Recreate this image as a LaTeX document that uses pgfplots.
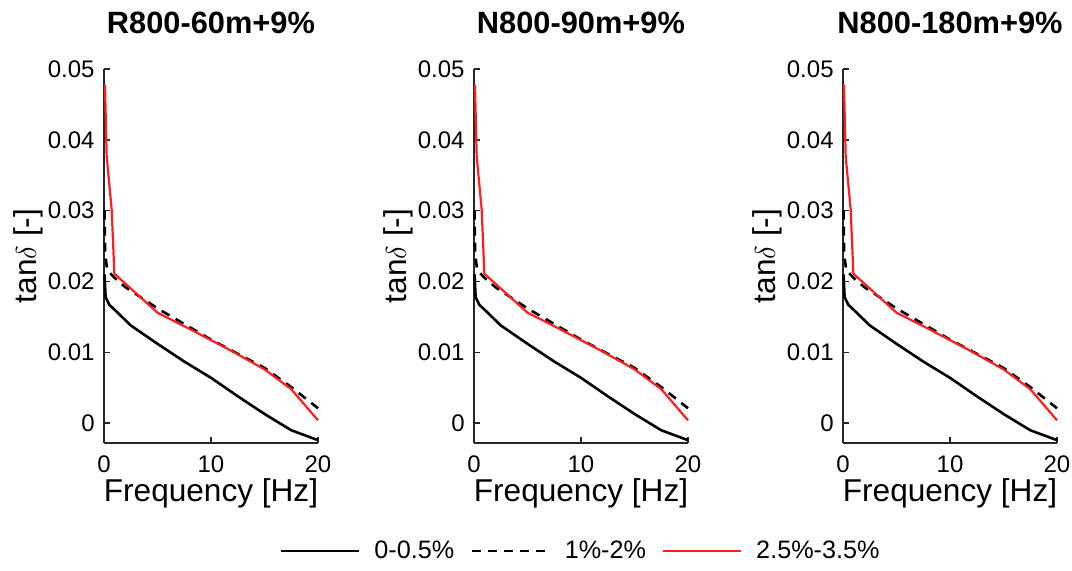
\documentclass[border=0pt]{standalone}
\usepackage{fontspec}
\setmainfont{Liberation Sans}
\usepackage{pgfplots}
\pgfplotsset{compat=1.18}

\pgfplotstableread{
x y
0.05 0.0210
0.15 0.0178
0.5 0.0167
1.0 0.0160
2.5 0.0138
5.0 0.0112
7.5 0.0087
10.0 0.0064
12.5 0.0038
15.0 0.0013
17.5 -0.0010
20.0 -0.0024
}\tblA
\pgfplotstableread{
x y
0.05 0.0300
0.1 0.0240
0.3 0.0216
1.0 0.0205
2.0 0.0192
5.0 0.0162
10.0 0.0118
15.0 0.0078
17.5 0.0051
20.0 0.0021
}\tblB
\pgfplotstableread{
x y
0.09 0.0478
0.25 0.0377
0.72 0.0301
0.97 0.0211
5.0 0.0156
8.0 0.0133
11.8 0.0103
15.0 0.0076
17.5 0.0048
20.0 0.0004
}\tblC

\definecolor{axgray}{RGB}{38,38,38}
\definecolor{mred}{RGB}{255,30,30}

\pgfplotsset{
  every axis title shift=0pt,
  panel/.style={
    scale only axis,
    width=107pt, height=187pt,
    xmin=0, xmax=20, ymin=-0.0028, ymax=0.05,
    axis lines*=left,
    axis line style={axgray, line width=0.8pt},
    tick style={axgray, line width=0.8pt},
    tick align=inside,
    major tick length=3pt,
    scaled y ticks=false,
    scaled x ticks=false,
    xtick={0,10,20},
    ytick={0,0.01,0.02,0.03,0.04,0.05},
    yticklabels={0,0.01,0.02,0.03,0.04,0.05},
    xticklabels={0,10,20},
    ticklabel style={font=\fontsize{12}{14}\selectfont, text=black},
    yticklabel style={inner sep=0pt, xshift=-4.5pt},
    xticklabel style={inner sep=0pt, yshift=-6pt},
    xlabel={Frequency [Hz]},
    ylabel={tan$\delta$ [-]},
    label style={font=\fontsize{15.8}{18}\selectfont},
    xlabel style={at={(axis description cs:0.5,-0.134)}, anchor=center, inner sep=0pt},
    ylabel style={at={(axis description cs:-0.355,0.5)}, anchor=center, rotate=0, inner sep=0pt},
    title style={font=\fontsize{15.4}{18}\bfseries\selectfont, at={(axis description cs:0.5,1.124)}, anchor=center, inner sep=0pt},
    clip=false,
  },
  cblack/.style={black, line width=1.3pt},
  cdash/.style={black, line width=1.3pt, dash pattern=on 4.5pt off 3.5pt},
  cred/.style={mred, line width=1.1pt},
}

\begin{document}
\begin{tikzpicture}
\path[use as bounding box] (-52pt,-64pt) rectangle (484pt,221.5pt);

\begin{axis}[panel, at={(0pt,0pt)}, title={R800-60m+9\%}]
\addplot[cblack] table {\tblA};
\addplot[cdash] table {\tblB};
\addplot[cred] table {\tblC};
\end{axis}

\begin{axis}[panel, at={(185pt,0pt)}, title={N800-90m+9\%},
  legend columns=3,
  legend style={at={(axis description cs:0.503,-0.289)}, anchor=center, draw=none, fill=none,
    font=\fontsize{12.6}{14}\selectfont, inner sep=0pt,
    /tikz/every odd column/.append style={column sep=5pt},
    /tikz/every even column/.append style={column sep=6pt}},
  legend image code/.code={\draw[#1] (0pt,0pt) -- (39pt,0pt);},
]
\addplot[cblack] table {\tblA};
\addplot[cdash] table {\tblB};
\addplot[cred] table {\tblC};
\legend{0-0.5\%, 1\%-2\%, 2.5\%-3.5\%}
\end{axis}

\begin{axis}[panel, at={(369.5pt,0pt)}, title={N800-180m+9\%}]
\addplot[cblack] table {\tblA};
\addplot[cdash] table {\tblB};
\addplot[cred] table {\tblC};
\end{axis}
\end{tikzpicture}
\end{document}
